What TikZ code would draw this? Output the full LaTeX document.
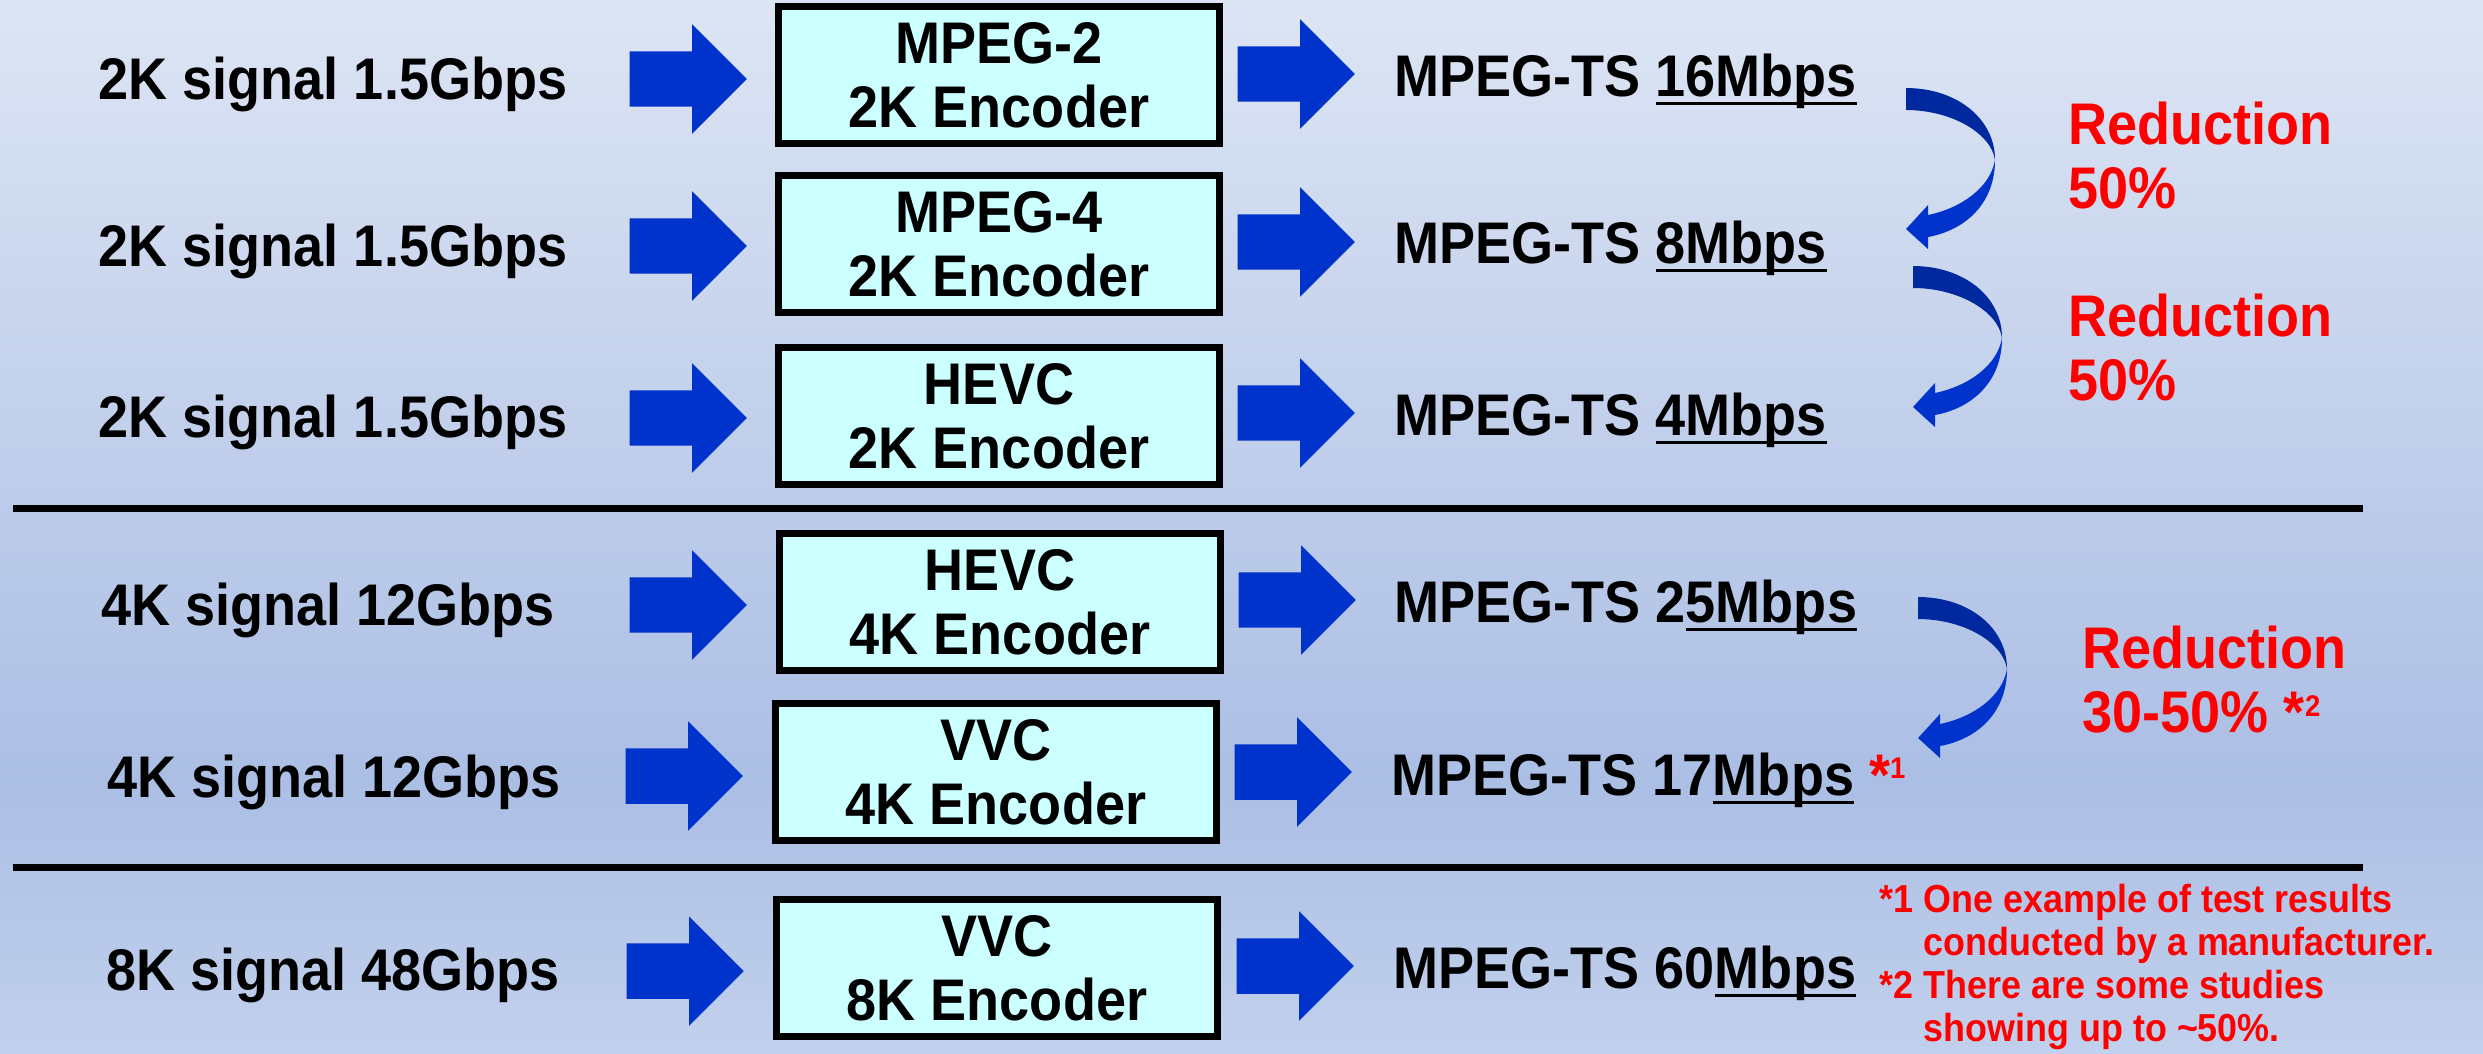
\documentclass[tikz,border=0pt]{standalone}
\usepackage{fontspec}
\setmainfont[FakeStretch=0.92]{Liberation Sans}
\usetikzlibrary{shapes.arrows}
\definecolor{bgtop}{RGB}{221,229,244}
\definecolor{bgmid}{RGB}{171,190,228}
\definecolor{bgbot}{RGB}{193,208,236}
\definecolor{arrowblue}{RGB}{0,51,204}
\definecolor{bendblue}{RGB}{0,41,160}
\definecolor{boxcyan}{RGB}{204,255,255}
\newcommand\undr[1]{\sbox0{#1}\rlap{\rule[-0.085cm]{\wd0}{0.03cm}}\usebox0}
\newcommand\fnmark[1]{*\raisebox{4.6pt}{\fontsize{8.5}{8.5}\selectfont #1}}
\tikzset{
 encoder/.style={draw, line width=0.07cm, fill=boxcyan, minimum width=4.41cm, minimum height=1.36cm, inner sep=0pt, align=center},
 fatarrow/.style={single arrow, fill=arrowblue, inner sep=0pt, text height=0.27cm, text depth=0.27cm, minimum height=1.17cm, single arrow head extend=0.27cm, anchor=tail},
 txt/.style={inner sep=0pt, anchor=base},
 rate/.style={inner sep=0pt, anchor=base west},
 note/.style={inner sep=0pt, anchor=north west, text=red, align=left},
 curvedarrow/.pic={
  \fill[bendblue] (0,0) .. controls (50,0) and (89,30) .. (89,72) .. controls (85,45) and (45,22) .. (0,22) -- cycle;
  \fill[arrowblue] (89,72) .. controls (89,115) and (60,142) .. (22,149) -- (22,161) -- (0,141) -- (22,117) -- (22,127) .. controls (55,120) and (84,100) .. (89,72) -- cycle;
 }
}
\begin{document}
\begin{tikzpicture}[x=0.01cm, y=-0.01cm, font=\fontsize{16.7}{18.2}\selectfont\bfseries]
 \useasboundingbox (0,0) rectangle (2483,1053);
 \shade[top color=bgtop, bottom color=bgmid] (0,0) rectangle (2483,780);
 \shade[top color=bgmid, bottom color=bgbot] (0,780) rectangle (2483,1053);
 \draw[line width=0.07cm] (13,508) -- (2363,508);
 \draw[line width=0.07cm] (13,867) -- (2363,867);
 % input signals
 \node[txt] (sig1) at (333,99) {2K signal 1.5Gbps};
 \node[txt] (sig2) at (333,266) {2K signal 1.5Gbps};
 \node[txt] (sig3) at (333,437) {2K signal 1.5Gbps};
 \node[txt] (sig4) at (328,625) {4K signal 12Gbps};
 \node[txt] (sig5) at (334,797) {4K signal 12Gbps};
 \node[txt] (sig6) at (333,990) {8K signal 48Gbps};
 % encoders
 \node[encoder] (enc1) at (999,75) {MPEG-2\\2K Encoder};
 \node[encoder] (enc2) at (999,244) {MPEG-4\\2K Encoder};
 \node[encoder] (enc3) at (999,416) {HEVC\\2K Encoder};
 \node[encoder] (enc4) at (1000,602) {HEVC\\4K Encoder};
 \node[encoder] (enc5) at (996,772) {VVC\\4K Encoder};
 \node[encoder] (enc6) at (997,968) {VVC\\8K Encoder};
 % block arrows
 \node[fatarrow] (a1) at (629,79) {};
 \node[fatarrow] (a2) at (629,246) {};
 \node[fatarrow] (a3) at (629,418) {};
 \node[fatarrow] (a4) at (629,605) {};
 \node[fatarrow] (a5) at (625,776) {};
 \node[fatarrow] (a6) at (626,971) {};
 \node[fatarrow] (b1) at (1237,74) {};
 \node[fatarrow] (b2) at (1237,242) {};
 \node[fatarrow] (b3) at (1237,413) {};
 \node[fatarrow] (b4) at (1238,600) {};
 \node[fatarrow] (b5) at (1234,772) {};
 \node[fatarrow] (b6) at (1236,966) {};
 % output streams
 \node[rate] (ts1) at (1394,96) {MPEG-TS \undr{16Mbps}};
 \node[rate] (ts2) at (1394,263) {MPEG-TS \undr{8Mbps}};
 \node[rate] (ts3) at (1394,435) {MPEG-TS \undr{4Mbps}};
 \node[rate] (ts4) at (1394,622) {MPEG-TS 2\undr{5Mbps}};
 \node[rate] (ts5) at (1391,795) {MPEG-TS 17\undr{Mbps} \textcolor{red}{\fnmark{1}}};
 \node[rate] (ts6) at (1393,988) {MPEG-TS 60\undr{Mbps}};
 % reductions
 \pic at (1906,88) {curvedarrow};
 \pic at (1913,266) {curvedarrow};
 \pic at (1918,597) {curvedarrow};
 \node[note] (red1) at (2068,101) {Reduction\\50\%};
 \node[note] (red2) at (2068,293) {Reduction\\50\%};
 \node[note] (red3) at (2082,625) {Reduction\\30-50\% \fnmark{2}};
 \node[note, font=\fontsize{11.1}{12.2}\selectfont\bfseries] (notes) at (1879,882) {\begin{tabular}{@{}l@{ }l@{}}{*}1 & One example of test results\\ & conducted by a manufacturer.\\ {*}2 & There are some studies\\ & showing up to \textasciitilde50\%.\end{tabular}};
\end{tikzpicture}
\end{document}
